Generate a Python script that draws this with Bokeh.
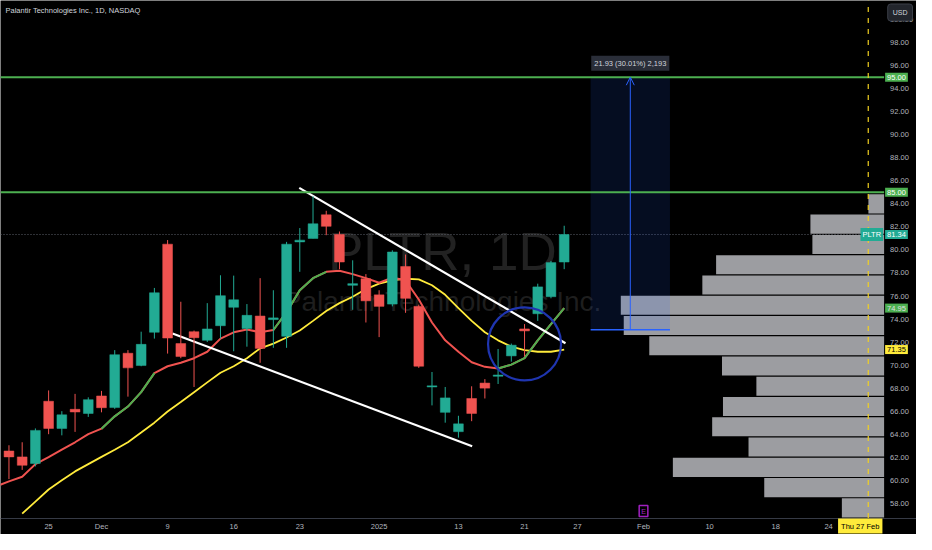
from bokeh.plotting import figure
from bokeh.models import (Range1d, FixedTicker, NumeralTickFormatter, Label,
                          Arrow, OpenHead, ColumnDataSource, LinearAxis)
from bokeh.core.properties import value
from bokeh.embed import file_html
from bokeh.resources import INLINE

# ---------------- data ----------------
title_text = "Palantir Technologies Inc., 1D, NASDAQ"
symbol = "PLTR"
interval = "1D"
company = "Palantir Technologies Inc."
currency = "USD"

bar_index = list(range(-3, 40))
opens = [62.54, 62.03, 61.46, 66.86, 64.5, 66.16, 65.8, 67.32, 66.31, 71.03, 69.96, 72.85,
         80.5, 71.87, 72.9, 72.15, 73.42, 75.02, 73.18, 74.26, 73.95, 72.5,
         80.7, 81.0, 83.05, 81.34, 76.93, 77.5, 76.1, 75.3, 78.56, 75.1, 68.1, 65.9,
         64.22, 67.1, 68.44, 69.03, 70.8, 73.14, 74.46, 75.94, 78.95]
highs = [63.04, 63.3, 64.5, 67.8, 66.0, 67.5, 67.2, 67.76, 71.3, 71.3, 72.9, 76.7,
         80.86, 75.5, 73.0, 75.38, 77.8, 77.77, 75.3, 77.55, 76.5, 80.7,
         81.9, 84.66, 83.4, 81.6, 79.1, 77.9, 76.5, 79.97, 79.6, 75.25, 69.4, 68.1,
         65.6, 68.16, 68.78, 71.4, 71.87, 73.56, 77.07, 79.04, 82.1]
lows = [60.1, 60.9, 61.2, 64.0, 63.9, 64.2, 65.5, 65.9, 66.2, 67.26, 69.9, 72.3,
        71.0, 70.6, 68.1, 72.0, 72.3, 71.2, 71.6, 70.2, 71.5, 71.5,
        78.1, 81.0, 81.28, 78.33, 74.8, 73.7, 72.43, 75.1, 74.54, 69.76, 66.5, 65.0,
        63.7, 65.13, 67.1, 68.36, 70.3, 70.74, 73.84, 75.8, 78.33]
closes = [62.03, 61.3, 64.33, 64.5, 65.68, 65.93, 67.0, 66.3, 70.9, 69.76, 71.8, 76.28,
          72.35, 70.74, 72.38, 73.14, 76.03, 75.67, 74.32, 71.45, 74.1, 80.5,
          80.85, 82.27, 82.05, 78.95, 77.07, 75.58, 75.1, 79.82, 75.8, 69.9, 68.2, 67.15,
          64.9, 65.8, 68.0, 69.14, 71.73, 72.97, 76.79, 78.9, 81.34]

fast_ma_index = list(range(-4, 40))
fast_ma = [59.45, 59.9, 60.3, 61.4, 62.0, 62.65, 63.3, 64.0, 64.48, 65.55, 66.4, 67.65,
           69.3, 69.9, 70.2, 70.6, 71.16, 72.3, 72.85, 73.1, 72.85, 73.05, 74.6,
           76.5, 77.55, 78.1, 78.2, 77.9, 77.55, 77.15, 77.6, 77.35, 75.7, 73.7, 72.15,
           71.16, 70.25, 69.85, 69.7, 70.04, 70.6, 72.15, 73.56, 74.95]
fast_ma_rising = [(4, 8), (17, 21), (34, 39)]

slow_ma_index = list(range(-2, 40))
slow_ma = [57.1, 58.15, 59.2, 60.0, 60.77, 61.4, 62.03, 62.65, 63.3, 64.14, 65.0,
           65.97, 66.8, 67.65, 68.5, 69.34, 69.9, 70.6, 71.45, 71.87, 72.4, 73.0,
           73.84, 74.7, 75.38, 75.94, 76.6, 77.07, 77.35, 77.5, 77.44, 76.93, 76.1,
           74.95, 73.84, 72.85, 72.15, 71.6, 71.3, 71.16, 71.16, 71.35]

tick_index = [0, 4, 9, 14, 19, 25, 31, 36, 40, 45, 50, 55, 59]
tick_labels = ["25", "Dec", "9", "16", "23", "2025", "13", "21", "27", "Feb", "10", "18", "24"]
price_ticks = list(range(58, 101, 2))

levels = [95.0, 85.0]

upper_trend_x = [18.96, 39.1]
upper_trend_y = [85.39, 71.9]
lower_trend_x = [9.37, 32.04]
lower_trend_y = [72.74, 62.96]

circle_x = [36.0]
circle_y = [71.84]

position_left = 41
position_right = 47
position_arrow = 44
position_entry = 73.07
position_target = 95.0
position_qty = 2193

earnings_index = 45
cursor_index = 62
cursor_label = "Thu 27 Feb"

profile_mid = [84.0, 82.24, 80.48, 78.72, 76.96, 75.2, 73.44, 71.68, 69.92, 68.16,
               66.4, 64.64, 62.88, 61.12, 59.36, 57.6]
profile_volume = [16, 75, 73, 171, 185, 268, 265, 239, 165, 130, 164, 175, 138, 215, 122, 43]
profile_row = 1.76

# ---------------- styles ----------------
BG = "#000000"
UP = "#22ab94"
DOWN = "#f05350"
MA_GREEN = "#4caf50"
MA_RED = "#f05350"
MA_YEL = "#ffeb3b"
LEVEL = "#4caf50"
BLUE = "#2962ff"
AX = "#b2b5be"
FONT = "Liberation Sans"

# pane (price area) edges and full canvas edges, in data units
X0, X1 = -3.64, 63.2
Y0, Y1 = 56.72, 101.66
XF = 65.65     # right edge of the price-scale column
YF = 55.29     # bottom edge of the time-scale row

p = figure(width=916, height=534, output_backend="svg", toolbar_location=None,
           x_range=Range1d(X0, XF), y_range=Range1d(YF, Y1),
           x_axis_location=None, y_axis_location=None,
           min_border_left=0, min_border_top=0, min_border_right=0, min_border_bottom=0)
p.background_fill_color = BG
p.border_fill_color = BG
p.outline_line_color = None
p.xgrid.visible = False
p.ygrid.visible = False

# axes (fixed inside the canvas, at the pane edges)
yax = LinearAxis(fixed_location=X1, ticker=FixedTicker(ticks=price_ticks),
                 formatter=NumeralTickFormatter(format="0.00"))
yax.axis_line_color = None
yax.major_tick_line_color = None
yax.minor_tick_line_color = None
yax.major_tick_out = 0
yax.major_tick_in = 0
yax.major_label_standoff = 6
yax.major_label_text_color = AX
yax.major_label_text_font = FONT
yax.major_label_text_font_size = "7.5px"
p.add_layout(yax, "right")

xax = LinearAxis(fixed_location=Y0, ticker=FixedTicker(ticks=tick_index),
                 major_label_overrides={t: l for t, l in zip(tick_index, tick_labels)})
xax.axis_line_color = "#363a45"
xax.major_tick_line_color = None
xax.minor_tick_line_color = None
xax.major_tick_out = 0
xax.major_tick_in = 0
xax.major_label_standoff = 4
xax.major_label_text_color = AX
xax.major_label_text_font = FONT
xax.major_label_text_font_size = "7.5px"
p.add_layout(xax, "below")

# watermark
xm = (X0 + X1) / 2
p.text(x=[xm], y=[79.9], text=[f"{symbol}, {interval}"], text_align="center",
       text_baseline="alphabetic", text_font=value(FONT), text_font_size="53px",
       text_color="#222222")
p.text(x=[xm], y=[75.52], text=[company], text_align="center",
       text_baseline="alphabetic", text_font=value(FONT), text_font_size="28px",
       text_color="#1e1e1e")

# last price dotted line
last_close = closes[-1]
p.line(x=[X0, X1], y=[last_close, last_close], line_color="#5d606b", line_dash="1 2",
       line_width=1)

# moving averages
p.line(x=slow_ma_index, y=slow_ma, line_color=MA_YEL, line_width=1.8)
p.line(x=fast_ma_index, y=fast_ma, line_color=MA_RED, line_width=2)
gx, gy = [], []
for a, b in fast_ma_rising:
    ia, ib = fast_ma_index.index(a), fast_ma_index.index(b)
    gx.append(fast_ma_index[ia:ib + 1])
    gy.append(fast_ma[ia:ib + 1])
p.multi_line(xs=gx, ys=gy, line_color=MA_GREEN, line_width=2)

# trend lines
p.line(x=upper_trend_x, y=upper_trend_y, line_color="white", line_width=2.2)
p.line(x=lower_trend_x, y=lower_trend_y, line_color="white", line_width=2.2)

# candles
colors = [UP if c >= o else DOWN for o, c in zip(opens, closes)]
src = ColumnDataSource(dict(x=bar_index, o=opens, h=highs, l=lows, c=closes,
                            top=[max(o, c) for o, c in zip(opens, closes)],
                            bot=[min(o, c) for o, c in zip(opens, closes)],
                            col=colors))
p.segment(x0="x", y0="h", x1="x", y1="l", line_color="col", line_width=1, source=src)
p.vbar(x="x", top="top", bottom="bot", width=0.74, fill_color="col", line_color="col",
       line_width=0.5, source=src)

# circle
p.scatter(x=circle_x, y=circle_y, marker="circle", size=73, fill_color=None,
          line_color="#1f35b0", line_width=2.2)

# volume profile
vmax = max(profile_volume)
maxw = 0.298 * (X1 - X0)
p.hbar(y=profile_mid, right=X1, left=[X1 - v / vmax * maxw for v in profile_volume],
       height=profile_row * 0.94, fill_color="#9c9da1", line_color=None)

# long position
p.quad(left=[position_left], right=[position_right], bottom=[position_entry],
       top=[position_target], fill_color=BLUE, fill_alpha=0.13, line_color=None)
p.line(x=[position_left, position_right], y=[position_entry, position_entry],
       line_color=BLUE, line_width=1.5)
p.add_layout(Arrow(x_start=position_arrow, y_start=position_entry, x_end=position_arrow,
                   y_end=position_target, line_color=BLUE, line_width=1,
                   end=OpenHead(size=8, line_color=BLUE, line_width=1)))
diff = position_target - position_entry
pct = diff / position_entry * 100
p.add_layout(Label(x=position_arrow, y=position_target, y_offset=14,
                   text=f"{diff:.2f} ({pct:.2f}%) {position_qty:,}", text_align="center",
                   text_baseline="middle", text_color="#d1d4dc", text_font=FONT,
                   text_font_size="7.5px", background_fill_color="#2a2e39",
                   padding=3))

# horizontal levels (pane width only) and cursor
p.segment(x0=[X0] * len(levels), y0=levels, x1=[X1] * len(levels), y1=levels,
          line_color=LEVEL, line_width=2)
p.segment(x0=[cursor_index], y0=[Y0], x1=[cursor_index], y1=[Y1], line_color="#f0d020",
          line_width=1.2, line_dash="5 6")

# earnings marker
p.add_layout(Label(x=earnings_index, y=Y0, y_offset=7, text="E", text_align="center",
                   text_baseline="middle", text_color="#a020c0", text_font=FONT,
                   text_font_size="7px", border_line_color="#a020c0",
                   border_line_width=1.5, padding=2))

# axis price labels
def axis_box(price, bg, fg, txt=None):
    p.add_layout(Label(x=X1, y=price, x_offset=1, text=txt or f"{price:.2f}",
                       text_align="left", text_baseline="middle", text_color=fg,
                       text_font=FONT, text_font_size="7.5px",
                       background_fill_color=bg, padding=2))

for lv in levels:
    axis_box(lv, LEVEL, "white")
axis_box(last_close, UP, "white")
axis_box(fast_ma[-1], MA_GREEN, "#e0e0e0")
axis_box(slow_ma[-1], MA_YEL, "black")
p.add_layout(Label(x=X1, y=last_close, x_offset=-1, text=symbol, text_align="right",
                   text_baseline="middle", text_color="white", text_font=FONT,
                   text_font_size="7.5px", background_fill_color=UP, padding=2))

# cursor date label
p.add_layout(Label(x=cursor_index, y=Y0, x_offset=-8, y_offset=-8, text=cursor_label,
                   text_align="center", text_baseline="middle", text_color="black",
                   text_font=FONT, text_font_size="7.5px",
                   background_fill_color="#ffeb3b", padding=3))

# title and currency button
p.add_layout(Label(x=X0, y=Y1, x_offset=5, y_offset=-10, text=title_text,
                   text_align="left", text_baseline="middle", text_color="#d1d4dc",
                   text_font=FONT, text_font_size="7.5px"))
p.add_layout(Label(x=X1, y=Y1, x_offset=16, y_offset=-12, text=currency,
                   text_align="center", text_baseline="middle", text_color="#d1d4dc",
                   text_font=FONT, text_font_size="7px", background_fill_color="#22252c",
                   border_line_color="#3a3e47", padding=5, border_radius=3))

open("out.html", "w").write(file_html(p, INLINE))
